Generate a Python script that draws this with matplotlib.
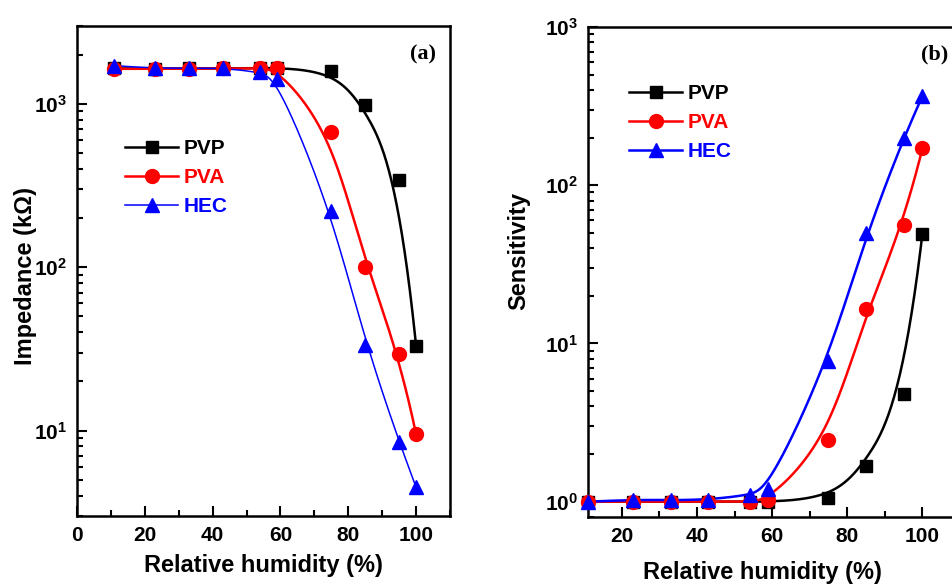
import numpy as np
import matplotlib
matplotlib.use("Agg")
import matplotlib.pyplot as plt
from matplotlib.ticker import FixedLocator, MultipleLocator, LogLocator, FuncFormatter, NullFormatter

plt.rcParams['font.family'] = ['Liberation Sans', 'DejaVu Sans']
plt.rcParams['font.weight'] = 'bold'
plt.rcParams['mathtext.fontset'] = 'custom'
plt.rcParams['mathtext.rm'] = 'Liberation Sans:bold'
plt.rcParams['mathtext.bf'] = 'Liberation Sans:bold'
plt.rcParams['mathtext.it'] = 'Liberation Sans:bold'

# ---------------- data ----------------
rh = [11, 23, 33, 43, 54, 59, 75, 85, 95, 100]

imp_pvp = [1650, 1640, 1650, 1650, 1660, 1660, 1580, 985, 342, 33]
imp_pva = [1640, 1640, 1645, 1650, 1650, 1650, 673, 100, 29.5, 9.5]
imp_hec = [1715, 1650, 1660, 1655, 1567, 1430, 222, 33.6, 8.5, 4.5]

sen_pvp = [1.0, 1.0, 1.0, 1.0, 1.0, 1.0, 1.05, 1.67, 4.8, 49.5]
sen_pva = [1.0, 1.0, 1.0, 1.0, 1.0, 1.02, 2.47, 16.5, 56.3, 171]
sen_hec = [1.0, 1.03, 1.02, 1.03, 1.1, 1.21, 7.77, 49.8, 200, 366]

labels = ['PVP', 'PVA', 'HEC']
colors = ['black', 'red', 'blue']
markers = ['s', 'o', '^']
msizes = [9, 10, 10.5]

x_ticks_a = [0, 20, 40, 60, 80, 100]
x_ticks_b = [20, 40, 60, 80, 100]


def bspline(xs, ys, n=400, k=3):
    """Clamped uniform cubic B-spline (Origin 'B-Spline' connect) in (x, log y)."""
    P = np.column_stack([np.asarray(xs, float), np.log10(np.asarray(ys, float))])
    m = len(P)
    knots = np.concatenate([np.zeros(k + 1), np.arange(1, m - k), np.full(k + 1, m - k)])
    t = np.linspace(0, m - k, n)
    t[-1] -= 1e-9

    def N(i, p, tt):
        if p == 0:
            return ((knots[i] <= tt) & (tt < knots[i + 1])).astype(float)
        out = np.zeros_like(tt)
        d1 = knots[i + p] - knots[i]
        d2 = knots[i + p + 1] - knots[i + 1]
        if d1 > 0:
            out += (tt - knots[i]) / d1 * N(i, p - 1, tt)
        if d2 > 0:
            out += (knots[i + p + 1] - tt) / d2 * N(i + 1, p - 1, tt)
        return out

    B = np.column_stack([N(i, k, t) for i in range(m)])
    C = B @ P
    return C[:, 0], 10 ** C[:, 1]


def log_fmt(v, pos):
    e = int(round(np.log10(v)))
    return r'$\mathbf{10^{%d}}$' % e


W, H = 952, 586
fig = plt.figure(figsize=(W / 100, H / 100), dpi=100)

def fx(px):
    return px / W

def fy(py):
    return 1 - py / H

axa = fig.add_axes([77 / W, 1 - 516 / H, 373 / W, 490 / H])
axb = fig.add_axes([588 / W, 1 - 517 / H, 372 / W, 490 / H])

def style(ax):
    for s in ax.spines.values():
        s.set_linewidth(1.8)
    ax.tick_params(which='both', direction='in', top=False, right=False, width=1.5)
    ax.tick_params(which='major', length=7, labelsize=15, pad=7)
    ax.tick_params(which='minor', length=4)
    ax.set_yscale('log')
    ax.yaxis.set_major_locator(LogLocator(base=10, numticks=10))
    ax.yaxis.set_minor_locator(LogLocator(base=10, subs=np.arange(2, 10), numticks=20))
    ax.yaxis.set_major_formatter(FuncFormatter(log_fmt))
    ax.yaxis.set_minor_formatter(NullFormatter())
    ax.xaxis.set_minor_locator(MultipleLocator(10))

style(axa)
style(axb)

LEG = dict(loc='upper left', bbox_transform=fig.transFigure, frameon=False, fontsize=15,
           handlelength=2.55, handletextpad=0.25, labelspacing=0.48,
           borderpad=0, borderaxespad=0, numpoints=1)

# ---------- panel (a) ----------
series_a = [imp_pvp, imp_pva, imp_hec]
lw_a = [1.8, 1.8, 1.1]
handles = []
for y, c, mk, ms, lw, lab in zip(series_a, colors, markers, msizes, lw_a, labels):
    bx, by = bspline(rh, y)
    axa.plot(bx, by, color=c, lw=lw, zorder=2)
    axa.plot(rh, y, ls='none', marker=mk, ms=ms, color=c, zorder=3)
    h, = axa.plot([], [], color=c, lw=lw, marker=mk, ms=ms, label=lab)
    handles.append(h)

axa.set_xlim(0, 110)
axa.set_ylim(3, 3000)
axa.xaxis.set_major_locator(FixedLocator(x_ticks_a))
axa.set_xlabel('Relative humidity (%)', fontsize=17, fontweight='bold')
axa.xaxis.set_label_coords(0.5, -0.078)
axa.set_ylabel('Impedance (kΩ)', fontsize=17, fontweight='bold')
axa.yaxis.set_label_coords(-0.107, 0.49)
fig.text(fx(423), fy(54), '(a)', fontsize=16, fontweight='bold',
         family='Liberation Serif', ha='center', va='center')
leg = axa.legend(handles=handles, bbox_to_anchor=(fx(125), fy(139)), **LEG)
for t, c in zip(leg.get_texts(), colors):
    t.set_color(c)

# ---------- panel (b) ----------
series_b = [sen_pvp, sen_pva, sen_hec]
handles = []
for y, c, mk, ms, lab in zip(series_b, colors, markers, msizes, labels):
    bx, by = bspline(rh, y)
    axb.plot(bx, by, color=c, lw=1.8, zorder=2)
    axb.plot(rh, y, ls='none', marker=mk, ms=ms, color=c, zorder=3, clip_on=False)
    h, = axb.plot([], [], color=c, lw=1.8, marker=mk, ms=ms, label=lab)
    handles.append(h)

axb.set_xlim(11, 110)
axb.set_ylim(0.8, 1000)
axb.xaxis.set_major_locator(FixedLocator(x_ticks_b))
axb.set_xlabel('Relative humidity (%)', fontsize=17, fontweight='bold')
axb.xaxis.set_label_coords(0.468, -0.09)
axb.set_ylabel('Sensitivity', fontsize=17, fontweight='bold')
axb.yaxis.set_label_coords(-0.155, 0.543)
fig.text(fx(935), fy(54), '(b)', fontsize=16, fontweight='bold',
         family='Liberation Serif', ha='center', va='center')
leg = axb.legend(handles=handles, bbox_to_anchor=(fx(629), fy(84)), **LEG)
for t, c in zip(leg.get_texts(), colors):
    t.set_color(c)

fig.savefig('out.png', dpi=100)
